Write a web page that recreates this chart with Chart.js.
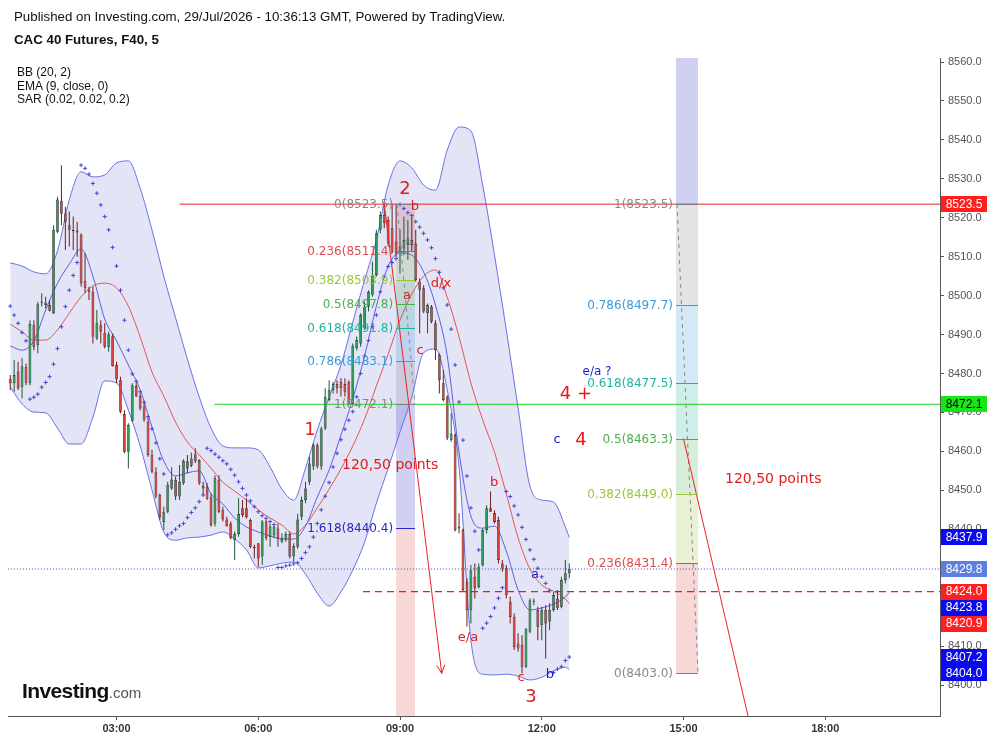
<!DOCTYPE html>
<html>
<head>
<meta charset="utf-8">
<title>CAC 40 Futures, F40, 5</title>
<script src="https://cdn.jsdelivr.net/npm/chart.js"></script>
<style>
  html, body { margin: 0; padding: 0; background: #fff; }
  #wrap { position: relative; width: 993px; height: 741px; overflow: hidden; }
  #chartCanvas { position: absolute; left: 0; top: 0; }
  .txt { position: absolute; font-family: "Liberation Sans", Arial, sans-serif; color: #111; white-space: nowrap; }
</style>
</head>
<body>
<div id="wrap">
  <canvas id="chartCanvas" width="993" height="741"></canvas>
  <div class="txt" style="left:14px; top:9px; font-size:13.3px;">Published on Investing.com, 29/Jul/2026 - 10:36:13 GMT, Powered by TradingView.</div>
  <div class="txt" style="left:14px; top:32px; font-size:13.3px; font-weight:bold;">CAC 40 Futures, F40, 5</div>
  <div class="txt" style="left:17px; top:66px; font-size:12px; line-height:13.5px;">BB (20, 2)<br>EMA (9, close, 0)<br>SAR (0.02, 0.02, 0.2)</div>
  <div class="txt" style="left:22px; top:679px;"><span style="font-size:21px; font-weight:bold; letter-spacing:-0.6px; color:#111;">Investing</span><span style="font-size:15px; color:#555;">.com</span></div>
</div>

<script>
Chart.defaults.font.family = '"Liberation Sans", Arial, sans-serif';

// 5-minute candles starting 00:45
const openVals = [8478.5,8477.5,8480.5,8476.6,8481.6,8477.5,8492.4,8487.3,8498.2,8498.2,8497.6,8495.4,8516.4,8524.4,8521.1,8518.1,8516.8,8516.7,8515.6,8503.8,
  8501.6,8501.0,8489.0,8492.4,8490.5,8486.9,8489.6,8482.2,8478.3,8469.6,8459.9,8467.9,8476.8,8474.2,8471.5,8467.6,8459.1,8454.8,8448.8,8441.9,
  8444.5,8450.5,8452.7,8448.4,8451.8,8457.5,8456.3,8459.3,8457.8,8451.1,8450.9,8448.2,8441.4,8452.7,8444.9,8442.5,8441.5,8437.2,8438.8,8445.4,
  8445.4,8442.4,8435.5,8436.4,8433.0,8442.0,8438.1,8438.5,8440.2,8436.8,8437.4,8438.8,8433.0,8435.5,8443.2,8447.5,8452.2,8456.1,8461.6,8456.1,
  8465.9,8473.2,8475.8,8477.3,8477.9,8477.3,8477.9,8472.2,8486.5,8487.7,8491.6,8497.2,8500.2,8505.3,8516.9,8520.7,8519.4,8517.3,8513.9,8511.3,
  8512.1,8513.0,8514.3,8513.4,8503.6,8501.9,8495.5,8497.2,8492.9,8484.8,8477.5,8474.0,8462.9,8464.2,8440.7,8439.8,8426.5,8419.2,8427.8,8425.2,
  8430.8,8439.8,8445.4,8444.2,8442.4,8431.2,8430.1,8421.4,8417.5,8410.7,8410.3,8404.7,8413.7,8421.4,8419.3,8415.4,8419.3,8416.3,8419.3,8422.2,
  8420.1,8427.0,8428.7];
const highVals = [8479.6,8483.5,8483.0,8483.9,8482.6,8493.7,8493.7,8498.4,8500.6,8499.7,8498.9,8518.1,8525.4,8533.5,8522.8,8521.6,8520.3,8519.0,8516.0,8510.9,
  8502.3,8502.3,8496.3,8493.7,8492.9,8490.7,8490.3,8483.0,8479.2,8470.6,8467.2,8477.5,8477.5,8474.9,8472.3,8468.5,8460.4,8455.9,8449.2,8445.8,
  8452.2,8455.9,8453.5,8456.5,8458.0,8459.1,8459.7,8460.8,8458.0,8452.2,8451.8,8449.2,8453.9,8453.9,8445.8,8443.2,8442.0,8439.4,8448.0,8447.5,
  8448.0,8442.8,8436.0,8436.4,8442.4,8442.4,8441.5,8440.8,8441.5,8439.0,8439.4,8439.4,8436.4,8444.0,8448.4,8452.2,8458.6,8462.1,8462.1,8466.3,
  8476.2,8478.3,8477.9,8478.3,8478.8,8478.8,8478.3,8487.7,8489.5,8495.5,8498.5,8501.4,8508.7,8516.9,8521.6,8523.5,8520.3,8523.5,8523.5,8516.9,
  8520.3,8519.4,8520.3,8516.9,8504.4,8502.7,8498.0,8497.6,8493.7,8485.2,8480.9,8474.5,8469.8,8464.6,8444.1,8440.2,8427.4,8430.8,8431.2,8431.2,
  8440.2,8446.2,8449.7,8444.9,8443.2,8432.1,8430.8,8422.7,8418.4,8413.3,8412.8,8414.5,8422.2,8422.2,8420.1,8420.1,8420.5,8421.0,8423.9,8424.4,
  8427.8,8432.1,8431.2];
const lowVals = [8475.8,8475.3,8475.8,8473.6,8477.0,8477.0,8486.0,8485.2,8497.2,8496.7,8495.9,8495.3,8516.0,8518.1,8511.7,8512.6,8511.7,8510.0,8502.3,8500.6,
  8498.9,8487.7,8488.6,8487.7,8486.5,8485.6,8481.8,8477.5,8469.8,8459.5,8455.6,8467.6,8474.0,8470.6,8467.6,8458.6,8454.4,8448.0,8442.4,8439.8,
  8444.1,8450.1,8447.5,8447.5,8451.4,8454.4,8455.9,8457.0,8451.4,8449.0,8447.5,8440.7,8440.7,8444.1,8442.0,8440.7,8437.4,8432.1,8438.1,8443.1,
  8442.8,8435.1,8432.5,8430.4,8430.8,8437.2,8435.5,8437.7,8435.5,8436.4,8436.8,8432.5,8431.7,8435.0,8442.4,8446.7,8451.4,8455.2,8455.6,8455.2,
  8465.5,8472.8,8474.9,8474.9,8474.1,8474.1,8471.9,8471.9,8486.0,8486.9,8491.2,8495.9,8499.7,8504.9,8516.0,8517.3,8512.6,8510.9,8510.0,8505.7,
  8510.4,8509.2,8511.3,8503.6,8490.3,8495.5,8490.3,8492.9,8483.5,8474.9,8472.8,8462.9,8462.5,8439.4,8439.0,8424.0,8415.0,8415.8,8422.2,8424.8,
  8430.4,8438.9,8444.5,8441.5,8431.2,8429.1,8422.2,8415.8,8409.0,8408.6,8403.0,8404.3,8413.3,8420.5,8411.5,8411.5,8406.8,8414.1,8418.8,8419.3,
  8419.7,8426.1,8427.4];
const closeVals = [8477.5,8479.6,8476.2,8481.9,8477.6,8492.7,8486.9,8497.8,8498.4,8497.6,8496.1,8516.9,8524.7,8521.0,8519.0,8516.9,8516.6,8516.2,8503.2,8501.9,
  8501.0,8489.5,8492.9,8490.7,8486.9,8490.1,8481.9,8478.5,8470.2,8459.9,8466.8,8477.0,8474.2,8471.0,8468.1,8459.1,8454.8,8448.4,8443.1,8444.5,
  8451.4,8452.8,8448.4,8452.2,8457.6,8455.6,8458.2,8457.4,8451.8,8450.5,8447.9,8441.1,8453.1,8444.5,8442.5,8440.8,8437.7,8438.8,8443.9,8443.7,
  8443.1,8435.5,8435.1,8432.5,8442.0,8437.7,8440.7,8440.7,8437.7,8437.7,8438.8,8433.0,8435.7,8442.5,8447.5,8450.5,8456.9,8461.6,8456.1,8465.9,
  8474.0,8475.8,8477.3,8476.2,8476.2,8475.3,8472.2,8487.1,8488.6,8495.0,8497.2,8501.0,8505.3,8516.0,8520.7,8518.6,8513.4,8511.3,8510.9,8512.6,
  8514.3,8514.7,8513.0,8504.0,8501.5,8495.9,8497.6,8493.3,8486.0,8478.3,8473.2,8463.4,8464.6,8439.8,8440.2,8424.4,8419.2,8429.5,8424.8,8430.4,
  8439.8,8445.4,8444.5,8441.9,8432.1,8429.9,8423.1,8417.5,8409.8,8409.4,8404.7,8414.5,8421.8,8421.4,8415.0,8419.3,8415.8,8419.3,8423.1,8419.7,
  8427.0,8428.7,8429.8];
const sarVals = [8497.3,8495.0,8492.9,8490.5,8488.4,8473.4,8473.9,8474.7,8476.5,8477.7,8479.2,8482.4,8486.4,8492.0,8497.2,8501.4,8505.2,8508.5,8533.5,8532.7,
  8531.2,8528.8,8526.3,8523.3,8520.3,8516.9,8512.4,8507.6,8501.4,8493.7,8486.0,8479.9,8478.0,8475.3,8472.6,8468.9,8465.8,8462.2,8458.1,8454.2,
  8438.6,8439.1,8440.0,8440.9,8441.5,8443.0,8444.3,8445.5,8447.1,8448.8,8460.8,8460.2,8459.3,8458.5,8457.6,8456.8,8455.4,8453.9,8452.2,8450.5,
  8448.8,8447.3,8445.8,8444.5,8443.5,8442.8,8442.0,8441.2,8430.2,8430.2,8430.6,8430.8,8431.1,8431.4,8432.5,8434.0,8435.5,8438.0,8441.5,8445.0,
  8448.5,8452.0,8456.0,8459.5,8463.0,8465.7,8468.0,8470.2,8474.0,8480.0,8484.5,8488.5,8492.0,8495.0,8501.0,8505.0,8507.5,8508.5,8509.5,8523.4,
  8522.4,8521.3,8520.6,8519.0,8517.6,8516.0,8514.3,8512.3,8509.5,8506.0,8502.0,8497.6,8491.4,8482.2,8472.7,8462.9,8453.7,8445.5,8439.5,8434.7,
  8414.6,8415.9,8417.6,8419.8,8422.3,8425.0,8449.7,8448.4,8446.0,8443.7,8440.5,8437.4,8434.7,8432.3,8430.0,8427.8,8426.1,8424.2,8403.2,8404.1,
  8404.7,8406.3,8407.2];

// indicator lines, one reading every 15 minutes plus the last bar
const bbUpper = [8508.4,8507.6,8506.1,8505.6,8511.5,8524.6,8531.8,8530.5,8531.0,8534.1,8534.6,8527.6,8516.9,8505.0,8494.3,8483.7,8474.0,8466.0,8461.4,8460.9,
  8460.9,8460.4,8456.0,8450.3,8447.5,8455.7,8465.5,8474.0,8482.2,8493.2,8504.0,8514.3,8528.4,8534.6,8532.8,8528.4,8527.1,8537.4,8543.3,8542.3,
  8528.4,8510.4,8491.2,8471.1,8451.1,8447.5,8447.0,8440.6,8437.9];
const bbLower = [8476.5,8472.2,8470.1,8469.9,8466.0,8461.9,8461.9,8468.8,8478.1,8477.6,8470.6,8461.4,8450.1,8439.3,8437.2,8437.8,8438.0,8438.5,8439.3,8437.5,
  8434.7,8430.1,8430.6,8431.3,8431.6,8428.5,8423.6,8420.3,8423.9,8429.5,8436.7,8446.7,8455.7,8465.0,8474.0,8485.3,8486.3,8475.8,8456.0,8411.6,
  8402.8,8402.6,8402.8,8402.3,8401.3,8402.0,8403.6,8404.6,8404.0];
const bbBasis = [8492.7,8490.7,8488.6,8488.6,8491.2,8495.5,8499.7,8502.5,8503.2,8502.0,8497.3,8489.4,8480.4,8474.2,8467.5,8462.4,8459.1,8455.7,8452.1,8449.8,
  8447.5,8445.0,8442.9,8441.1,8438.8,8441.1,8445.5,8450.3,8455.5,8461.4,8468.3,8476.8,8485.0,8493.7,8500.4,8505.0,8506.6,8499.6,8489.4,8477.6,
  8468.1,8459.8,8449.1,8437.8,8429.8,8425.7,8424.1,8422.1,8420.9];
const ema9 = [8487.1,8486.0,8488.4,8496.3,8503.2,8508.1,8512.0,8505.0,8494.0,8488.4,8482.2,8475.8,8466.3,8457.5,8453.7,8454.5,8455.0,8449.1,8446.5,8442.9,
  8440.6,8439.3,8438.3,8437.5,8437.5,8440.8,8448.3,8455.2,8464.2,8473.5,8484.5,8497.3,8507.6,8511.0,8510.4,8506.1,8497.6,8484.5,8459.8,8443.4,
  8440.3,8440.8,8434.4,8424.4,8419.3,8419.8,8420.8,8422.6,8423.8];

const xTickMinutes = [180, 360, 540, 720, 900, 1080];
const yTickValues = [8400, 8410, 8420, 8430, 8440, 8450, 8460, 8470, 8480, 8490, 8500, 8510, 8520, 8530, 8540, 8550, 8560];

// horizontal levels (price, start minute)
const levelPrices = [8523.5, 8472.1, 8429.8, 8424.0];
const levelStarts = [260, 304, 42, 493];

// fibonacci retracements
const fibLeftRatios = [0, 0.236, 0.382, 0.5, 0.618, 0.786, 1, 1.618, 2.618];
const fibLeftPrices = [8523.5, 8511.4, 8503.9, 8497.8, 8491.8, 8483.1, 8472.1, 8440.4, 8388.9];
const fibRightRatios = [0, 0.236, 0.382, 0.5, 0.618, 0.786, 1, 1.618];
const fibRightPrices = [8403.0, 8431.4, 8449.0, 8463.3, 8477.5, 8497.7, 8523.5, 8598.0];

// tags on the price axis
const tagPrices = [8523.5, 8472.1, 8437.9, 8429.8, 8424.0, 8423.8, 8420.9, 8407.2, 8404.0];

// drawn tools (minute, price)
const arrowLeft = [[520, 8523.5], [593, 8403.0]];
const arrowRight = [[900, 8463.3], [1038.7, 8342.8]];
const fibLeftDiag = [[536.2, 8523.5], [559, 8472.1]];
const fibRightDiag = [[891.8, 8523.5], [918.5, 8403.0]];

const xMin = 42.16, xMax = 1225.8, yMin = 8392.05, yMax = 8561.03;

const startMinute = 45, barMinutes = 5;
const candleTimes = openVals.map((_, i) => startMinute + i * barMinutes);
const lineTimes = candleTimes.filter((t, i) => i % 3 === 0 || i === candleTimes.length - 1);
const isUp = closeVals.map((c, i) => c >= openVals[i]);

const fibColors = { 0: '#808080', 0.236: '#e04a4a', 0.382: '#9bc53d', 0.5: '#4caf50', 0.618: '#21b39a',
  0.786: '#3b9ad8', 1: '#808080', 1.618: '#2828c8', 2.618: '#e04a4a' };
const tagStyles = [['#ff1f1f', '#fff'], ['#19e619', '#000'], ['#0a0aee', '#fff'], ['#5a7fe0', '#fff'], ['#ff1f1f', '#fff'],
  ['#0a0aee', '#fff'], ['#ff1f1f', '#fff'], ['#0a0aee', '#fff'], ['#0a0aee', '#fff']];
const RED = '#e31b1b', BLUE = '#1a1ad0';
const notes = [
  [546.4, 8527.4, '2', RED, 18], [425.7, 8465.5, '1', RED, 18], [706.4, 8396.9, '3', RED, 18],
  [763.5, 8474.7, '4 +', RED, 18], [769.9, 8462.9, '4', RED, 18], [739.4, 8462.9, 'c', BLUE, 13],
  [790.2, 8480.4, 'e/a ?', BLUE, 12], [559.0, 8522.8, 'b', RED, 13], [548.9, 8499.9, 'a', RED, 13],
  [565.4, 8486.0, 'c', RED, 13], [592.1, 8503.2, 'd/x', RED, 13], [659.4, 8451.9, 'b', RED, 13],
  [626.4, 8412.3, 'e/a', RED, 13], [711.5, 8428.3, 'a', BLUE, 13], [693.7, 8401.8, 'c', RED, 13],
  [730.5, 8402.6, 'b', BLUE, 13]
];
const pointsNotes = [[466.3, 8456.3], [952.8, 8452.9]];

function rgba(hex, a) {
  const n = parseInt(hex.slice(1), 16);
  return `rgba(${(n >> 16) & 255},${(n >> 8) & 255},${n & 255},${a})`;
}
function pad2(n) { return (n < 10 ? '0' : '') + n; }
function fmtTime(m) { return pad2(Math.floor(m / 60)) + ':' + pad2(m % 60); }
function segment(pts, color, width, dash, order) {
  return { type: 'line', data: pts.map(p => ({ x: p[0], y: p[1] })), borderColor: color, borderWidth: width,
    borderDash: dash || [], pointRadius: 0, fill: false, tension: 0, order: order };
}
function curve(vals, color, order, extra) {
  return Object.assign({ type: 'line', data: lineTimes.map((t, i) => ({ x: t, y: vals[i] })), borderColor: color,
    borderWidth: 1, pointRadius: 0, fill: false, cubicInterpolationMode: 'monotone', order: order }, extra || {});
}

const levelStyles = [['#ee2020', []], ['#1ed31e', []], ['#3050c0', [1, 2]], ['#e02020', [7, 5]]];

const datasets = [
  curve(bbUpper, '#6a6fe6', 100, { fill: '+1', backgroundColor: 'rgba(70,75,190,0.15)' }),
  curve(bbLower, '#6a6fe6', 99),
  curve(bbBasis, '#e35454', 50),
  curve(ema9, '#5a5fe0', 49),
  { type: 'bar', data: candleTimes.map((t, i) => ({ x: t, y: [lowVals[i], highVals[i]] })),
    backgroundColor: isUp.map(u => u ? '#1f5a33' : '#6b2020'), grouped: false, maxBarThickness: 1, order: 20 },
  { type: 'bar', data: candleTimes.map((t, i) => ({ x: t, y: [openVals[i], closeVals[i]] })),
    backgroundColor: isUp.map(u => u ? '#2a9d5a' : '#d9443b'), borderColor: '#2a2a2a', borderWidth: 0.7,
    borderSkipped: false, grouped: false, maxBarThickness: 3.4, minBarLength: 1, order: 19 },
  { type: 'line', data: candleTimes.map((t, i) => ({ x: t, y: sarVals[i] })), showLine: false,
    pointStyle: 'cross', pointRadius: 2, pointBorderColor: '#4545d6', pointBorderWidth: 1, order: 10 }
];
levelPrices.forEach((p, i) => {
  datasets.push(segment([[levelStarts[i], p], [xMax, p]], levelStyles[i][0], i === 3 ? 1.3 : 1, levelStyles[i][1], 5));
});
datasets.push(segment(arrowLeft, '#ee2020', 1, [], 4));
datasets.push(segment(arrowRight, '#ee2020', 1, [], 4));
datasets.push(segment(fibLeftDiag, '#888888', 1, [4, 4], 4));
datasets.push(segment(fibRightDiag, '#888888', 1, [4, 4], 4));

const fibs = [
  { t0: 535, t1: 559, ratios: fibLeftRatios, prices: fibLeftPrices },
  { t0: 890.5, t1: 918.5, ratios: fibRightRatios, prices: fibRightPrices }
];

const drawings = {
  id: 'drawings',
  beforeDatasetsDraw(chart) {
    const { ctx, chartArea: a, scales: { x, y } } = chart;
    ctx.save();
    ctx.beginPath(); ctx.rect(a.left, a.top, a.width, a.height); ctx.clip();
    fibs.forEach(f => {
      const x0 = x.getPixelForValue(f.t0), x1 = x.getPixelForValue(f.t1);
      for (let i = 0; i < f.ratios.length - 1; i++) {
        const ya = y.getPixelForValue(f.prices[i]), yb = y.getPixelForValue(f.prices[i + 1]);
        ctx.fillStyle = rgba(fibColors[f.ratios[i + 1]], 0.22);
        ctx.fillRect(x0, Math.min(ya, yb), x1 - x0, Math.abs(yb - ya));
      }
    });
    ctx.restore();
  },
  afterDatasetsDraw(chart) {
    const { ctx, chartArea: a, scales: { x, y } } = chart;
    ctx.save();
    ctx.beginPath(); ctx.rect(a.left, a.top, a.width, a.height); ctx.clip();
    // fib levels and labels
    ctx.font = '12px "DejaVu Sans", Verdana, sans-serif';
    ctx.textAlign = 'right'; ctx.textBaseline = 'middle';
    fibs.forEach(f => {
      const x0 = x.getPixelForValue(f.t0), x1 = x.getPixelForValue(f.t1);
      f.ratios.forEach((r, i) => {
        const p = f.prices[i];
        if (p < yMin || p > yMax) return;
        const py = Math.round(y.getPixelForValue(p)) + 0.5;
        ctx.strokeStyle = fibColors[r]; ctx.lineWidth = 1;
        ctx.beginPath(); ctx.moveTo(x0, py); ctx.lineTo(x1, py); ctx.stroke();
        ctx.fillStyle = r === 0 || r === 1 ? '#888' : fibColors[r];
        ctx.fillText(r + '(' + p.toFixed(1) + ')', x0 - 3, py);
      });
    });
    // arrow head
    const sx = x.getPixelForValue(arrowLeft[0][0]), sy = y.getPixelForValue(arrowLeft[0][1]);
    const ex = x.getPixelForValue(arrowLeft[1][0]), ey = y.getPixelForValue(arrowLeft[1][1]);
    const ang = Math.atan2(ey - sy, ex - sx);
    ctx.strokeStyle = '#ee2020'; ctx.lineWidth = 1;
    ctx.beginPath();
    ctx.moveTo(ex - 9 * Math.cos(ang - 0.45), ey - 9 * Math.sin(ang - 0.45));
    ctx.lineTo(ex, ey);
    ctx.lineTo(ex - 9 * Math.cos(ang + 0.45), ey - 9 * Math.sin(ang + 0.45));
    ctx.stroke();
    // wave labels
    ctx.textAlign = 'center';
    notes.forEach(n => {
      ctx.font = n[4] + 'px "DejaVu Sans", Verdana, sans-serif';
      ctx.fillStyle = n[3];
      ctx.fillText(n[2], x.getPixelForValue(n[0]), y.getPixelForValue(n[1]));
    });
    ctx.textAlign = 'left';
    ctx.font = '14px "DejaVu Sans", Verdana, sans-serif';
    ctx.fillStyle = RED;
    pointsNotes.forEach(n => ctx.fillText('120,50 points', x.getPixelForValue(n[0]), y.getPixelForValue(n[1])));
    ctx.restore();
  },
  afterDraw(chart) {
    const { ctx, chartArea: a, scales: { y } } = chart;
    ctx.save();
    ctx.font = '12px "Liberation Sans", Arial, sans-serif';
    ctx.textAlign = 'center'; ctx.textBaseline = 'middle';
    const idx = tagPrices.map((p, i) => i).sort((m, n) => tagPrices[n] - tagPrices[m]);
    let prev = -Infinity;
    idx.forEach(i => {
      const yy = Math.max(y.getPixelForValue(tagPrices[i]), prev + 16);
      prev = yy;
      ctx.fillStyle = tagStyles[i][0];
      ctx.fillRect(a.right + 1, Math.round(yy - 8), 46, 16);
      ctx.fillStyle = tagStyles[i][1];
      ctx.fillText(tagPrices[i].toFixed(1), a.right + 24, yy + 0.5);
    });
    ctx.restore();
  }
};

new Chart(document.getElementById('chartCanvas').getContext('2d'), {
  type: 'bar',
  data: { datasets: datasets },
  plugins: [drawings],
  options: {
    responsive: false,
    animation: false,
    events: [],
    layout: { padding: { left: 8, top: 58, right: 0, bottom: 0 } },
    plugins: { legend: { display: false }, tooltip: { enabled: false } },
    scales: {
      x: {
        type: 'linear', min: xMin, max: xMax, offset: false,
        grid: { display: true, drawOnChartArea: false, drawTicks: true, tickLength: 4, color: '#555', offset: false },
        border: { display: true, color: '#555' },
        afterBuildTicks: s => { s.ticks = xTickMinutes.map(v => ({ value: v })); },
        afterFit: s => { s.height = 25; },
        ticks: { autoSkip: false, maxRotation: 0, padding: 2, color: '#333',
          font: { size: 11, weight: 'bold' }, callback: v => fmtTime(v) }
      },
      y: {
        type: 'linear', position: 'right', min: yMin, max: yMax,
        grid: { display: true, drawOnChartArea: false, drawTicks: true, tickLength: 4, color: '#555' },
        border: { display: true, color: '#555' },
        afterBuildTicks: s => { s.ticks = yTickValues.map(v => ({ value: v })); },
        afterFit: s => { s.width = 53; },
        ticks: { autoSkip: false, padding: 4, color: '#555', font: { size: 11 }, callback: v => v.toFixed(1) }
      }
    }
  }
});
</script>
</body>
</html>
